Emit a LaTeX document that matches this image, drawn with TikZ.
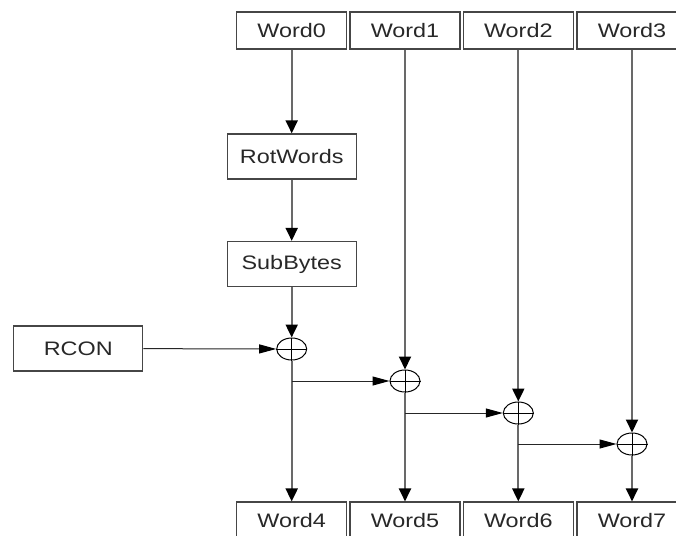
\documentclass[tikz,border=0pt]{standalone}
\usepackage{fontspec}
\setmainfont{Liberation Sans}[FakeStretch=1.2]
\usetikzlibrary{arrows.meta,shapes.geometric}
\definecolor{linegray}{RGB}{105,105,105}
\definecolor{boxgray}{RGB}{70,70,70}
\definecolor{txtgray}{RGB}{40,40,40}
\tikzset{
  wordbox/.style={draw=boxgray,line width=1.3pt,minimum width=110pt,minimum height=37pt,
    inner sep=0pt,text=txtgray,font=\fontsize{19.5}{22}\selectfont},
  opbox/.style={wordbox,minimum width=129pt,minimum height=45pt},
  xorop/.style={ellipse,draw=black,line width=1pt,minimum width=30pt,minimum height=22pt,inner sep=0pt},
  vline/.style={draw=linegray,line width=2pt,-{Triangle[length=13pt,width=12pt,color=black]}},
  hline/.style={draw=black!85,line width=1pt,-{Triangle[length=17pt,width=9pt,color=black]}}
}
\begin{document}
\begin{tikzpicture}[x=1pt,y=-1pt]
\clip (0,0) rectangle (676,535);
\fill[white] (0,0) rectangle (676,535);
% input words
\node[wordbox] (w0) at (291.7,30.6) {Word0};
\node[wordbox] (w1) at (405,30.6) {Word1};
\node[wordbox] (w2) at (518.3,30.6) {Word2};
\node[wordbox] (w3) at (632,30.6) {Word3};
% output words
\node[wordbox] (w4) at (291.7,520.6) {Word4};
\node[wordbox] (w5) at (405,520.6) {Word5};
\node[wordbox] (w6) at (518.3,520.6) {Word6};
\node[wordbox] (w7) at (632,520.6) {Word7};
% steps
\node[opbox] (rot) at (291.7,156.5) {RotWords};
\node[opbox] (sub) at (291.7,264) {SubBytes};
\node[opbox] (rcon) at (78.3,348.5) {RCON};
% xor
\node[xorop] (x0) at (291.7,349) {};
\node[xorop] (x1) at (405,381) {};
\node[xorop] (x2) at (518.3,413) {};
\node[xorop] (x3) at (632,444) {};
\foreach \x in {x0,x1,x2,x3}
  \draw[black,line width=1pt] (\x.north) -- (\x.south) (\x.west) -- (\x.east);
\coordinate (b1) at (x0 |- x1);
\coordinate (b2) at (x1 |- x2);
\coordinate (b3) at (x2 |- x3);
% columns
\draw[vline] (w0) -- (rot);
\draw[vline] (rot) -- (sub);
\draw[vline] (sub) -- (x0);
\draw[vline] (x0) -- (w4);
\draw[vline] (w1) -- (x1);
\draw[vline] (x1) -- (w5);
\draw[vline] (w2) -- (x2);
\draw[vline] (x2) -- (w6);
\draw[vline] (w3) -- (x3);
\draw[vline] (x3) -- (w7);
% feed
\draw[hline] (rcon) -- (x0);
\draw[hline] (b1) -- (x1);
\draw[hline] (b2) -- (x2);
\draw[hline] (b3) -- (x3);
\end{tikzpicture}
\end{document}
